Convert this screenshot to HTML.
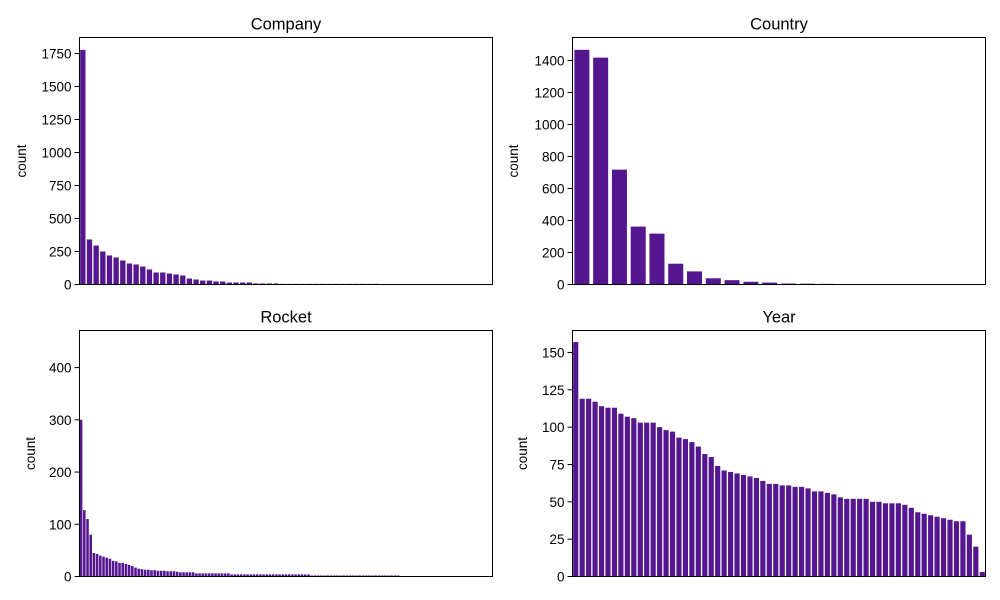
<!DOCTYPE html>
<html><head><meta charset="utf-8">
<style>
body{margin:0;background:#fff;}
svg{display:block;font-family:"Liberation Sans","DejaVu Sans",sans-serif;}
</style></head>
<body>
<svg id="fig" width="1000" height="600" viewBox="0 0 1000 600"></svg>
<script>
const companyValues=[1777,341,295,250,220,205,182,159,152,136,114,91,91,83,76,68,45,38,30,30,23,23,15,15,15,15,8,8,8,8,5,5,5,5,5,5,5,5,5,5,5,5,5,5,5];
const companyCount=62;
const companyTicks=[0,250,500,750,1000,1250,1500,1750];
const countryValues=[1467,1418,718,362,318,130,82,39,27,17,12,6,5,4,3,2];
const countryCount=22;
const countryTicks=[0,200,400,600,800,1000,1200,1400];
const rocketValues=[300,127,110,80,45,43,40,38,36,34,30,29,26,26,24,22,20,17,15,14,13,13,12,12,11,11,11,10,10,10,9,8,8,8,8,8,6,6,6,6,6,6,6,6,6,6,6,4,4,4,4,4,4,4,4,4,4,4,4,4,4,4,4,4,4,4,4,4,4,4,4,4,2,2,2,2,2,2,2,2,2,2,2,2,2,2,2,2,2,2,2,2,2,2,2,2,2,2,2,2];
const rocketCount=129;
const rocketTicks=[0,100,200,300,400];
const yearValues=[157,119,119,117,114,113,113,109,107,106,103,103,103,100,98,97,93,92,90,87,82,80,74,71,70,69,68,67,66,64,62,62,61,61,60,60,59,57,57,56,55,53,52,52,52,52,50,50,49,49,49,48,46,43,42,41,40,39,38,37,37,28,20,3];
const yearCount=64;
const yearTicks=[0,25,50,75,100,125,150];

const NS="http://www.w3.org/2000/svg";
const svg=document.getElementById('fig');
function mk(tag,attrs,parent){const e=document.createElementNS(NS,tag);for(const k in attrs)e.setAttribute(k,attrs[k]);(parent||svg).appendChild(e);return e;}

function panel(key,title,x0,y0,w,h,values,count,ticks,ymax,ylabX){
  const g=mk('g',{});
  
  
  const ys=v=>y0+h-v/ymax*h;
  const slot=w/count;
  const xs=i=>x0+i*slot;
  values.forEach((v,i)=>{
    const r=mk('rect',{x:xs(i)+slot*0.1,y:ys(v),width:slot*0.8,height:h-(ys(v)-y0),fill:'#55178f'},g);
    
    
  });
  ticks.forEach(t=>{
    const y=ys(t);
    mk('line',{x1:x0-5,x2:x0,y1:y,y2:y,stroke:'#000','stroke-width':1},g);
    const tx=mk('text',{x:x0-8,y:y+5,'text-anchor':'end','font-size':'13.5px',fill:'#000'},g);
    tx.textContent=t;
    
    
  });
  const fr=mk('rect',{x:x0,y:y0,width:w,height:h,fill:'none',stroke:'#000','stroke-width':1},g);
  
  
  const tt=mk('text',{x:x0+w/2,y:y0-8,'text-anchor':'middle','font-size':'16.5px',fill:'#000'},g);
  tt.textContent=title;
  
  
  const yl=mk('text',{x:ylabX,y:y0+h/2,'text-anchor':'middle','font-size':'13.5px',fill:'#000',transform:`rotate(-90 ${ylabX} ${y0+h/2})`},g);
  yl.textContent='count';
  
  
}
panel('company','Company',79.5,37.5,413,247,companyValues,companyCount,companyTicks,1871,26);
panel('country','Country',572.5,37.5,413,247,countryValues,countryCount,countryTicks,1544,518);
panel('rocket','Rocket',79.5,330.5,413,246,rocketValues,rocketCount,rocketTicks,471,35);
panel('year','Year',572.5,330.5,413,246,yearValues,yearCount,yearTicks,164.7,527);
</script>
</body></html>
